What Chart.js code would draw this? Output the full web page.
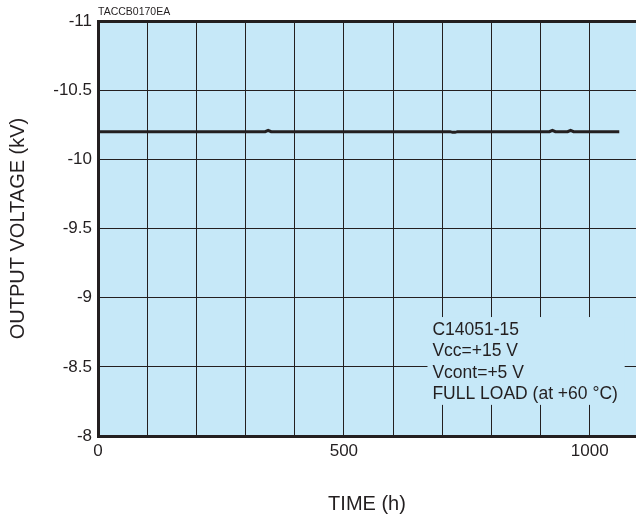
<!DOCTYPE html>
<html>
<head>
<meta charset="utf-8">
<script src="https://cdn.jsdelivr.net/npm/chart.js@4.4.1/dist/chart.umd.min.js"></script>
<style>
  body { margin: 0; background: #fff; }
  #wrap { width: 636px; height: 520px; }
</style>
</head>
<body>
<div id="wrap"><canvas id="myChart" width="636" height="520"></canvas></div>
<script>
// data
const hours = [0, 3, 6, 100, 200, 300, 340, 346, 352, 400, 500, 600, 700, 716, 721, 726, 731, 800, 900, 918, 924, 930, 955, 961, 967, 1000, 1060];
const voltage = [-10.19, -10.2, -10.2, -10.2, -10.2, -10.2, -10.2, -10.21, -10.2, -10.2, -10.2, -10.2, -10.2, -10.2, -10.195, -10.195, -10.2, -10.2, -10.2, -10.2, -10.21, -10.2, -10.2, -10.21, -10.2, -10.2, -10.2];
const xGridHours = [0, 100, 200, 300, 400, 500, 600, 700, 800, 900, 1000];
const xTickLabels = [0, 500, 1000];
const noteLines = ['C14051-15', 'Vcc=+15 V', 'Vcont=+5 V', 'FULL LOAD (at +60 \u00b0C)'];

const ink = '#231f20';
const plotBlue = '#c6e8f8';

Chart.defaults.font.family = "'Liberation Sans', Arial, sans-serif";
Chart.defaults.color = ink;

// light blue plot area, note box and the small code label
const decor = {
  id: 'decor',
  beforeDraw(chart) {
    const a = chart.chartArea;
    const ctx = chart.ctx;
    ctx.save();
    ctx.fillStyle = plotBlue;
    ctx.fillRect(a.left, a.top, a.right - a.left, a.bottom - a.top);
    ctx.restore();
  },
  beforeDatasetsDraw(chart) {
    const x = chart.scales.x, y = chart.scales.y;
    const ctx = chart.ctx;
    const x0 = x.getPixelForValue(670), x1 = x.getPixelForValue(1071);
    const y0 = y.getPixelForValue(-8.86), y1 = y.getPixelForValue(-8.225);
    ctx.save();
    ctx.fillStyle = plotBlue;
    ctx.fillRect(x0, y0, x1 - x0, y1 - y0);
    ctx.fillStyle = ink;
    ctx.font = "17.5px 'Liberation Sans', Arial, sans-serif";
    ctx.textBaseline = 'alphabetic';
    const tx = x.getPixelForValue(680);
    noteLines.forEach((t, i) => {
      ctx.fillText(t, tx, y0 + 18 + i * 21.3);
    });
    ctx.restore();
  },
  afterDraw(chart) {
    const ctx = chart.ctx;
    ctx.save();
    ctx.fillStyle = ink;
    ctx.font = "10.5px 'Liberation Sans', Arial, sans-serif";
    ctx.fillText('TACCB0170EA', chart.chartArea.left, 15);
    ctx.restore();
  }
};

new Chart(document.getElementById('myChart'), {
  type: 'line',
  data: {
    datasets: [{
      data: hours.map((h, i) => ({ x: h, y: voltage[i] })),
      borderColor: ink,
      borderWidth: 3,
      pointRadius: 0,
      tension: 0
    }]
  },
  options: {
    responsive: false,
    animation: false,
    layout: { padding: { top: 21, left: 0, right: 0, bottom: 0 } },
    plugins: {
      legend: { display: false },
      tooltip: { enabled: false }
    },
    scales: {
      x: {
        type: 'linear',
        min: 0,
        max: 1094,
        afterFit: s => { s.height = 84; },
        afterBuildTicks: s => { s.ticks = xGridHours.map(v => ({ value: v })); },
        ticks: {
          autoSkip: false,
          maxRotation: 0,
          padding: 5,
          font: { size: 17 },
          callback: v => xTickLabels.includes(v) ? String(v) : ''
        },
        grid: { color: ink, lineWidth: 1, drawTicks: false },
        border: { display: true, color: ink, width: 3 },
        title: {
          display: true,
          text: 'TIME (h)',
          font: { size: 20 },
          padding: { top: 0, bottom: 4 }
        }
      },
      y: {
        min: -11,
        max: -8,
        reverse: true,
        afterFit: s => { s.width = 98; },
        ticks: {
          stepSize: 0.5,
          padding: 6,
          font: { size: 17 },
          callback: v => String(v)
        },
        grid: {
          color: ink,
          drawTicks: false,
          lineWidth: c => (c.tick && c.tick.value === -11) ? 3 : 1
        },
        border: { display: true, color: ink, width: 3 },
        title: {
          display: true,
          text: 'OUTPUT VOLTAGE (kV)',
          font: { size: 20 },
          padding: { top: 6, bottom: 0 }
        }
      }
    }
  },
  plugins: [decor]
});
</script>
</body>
</html>
